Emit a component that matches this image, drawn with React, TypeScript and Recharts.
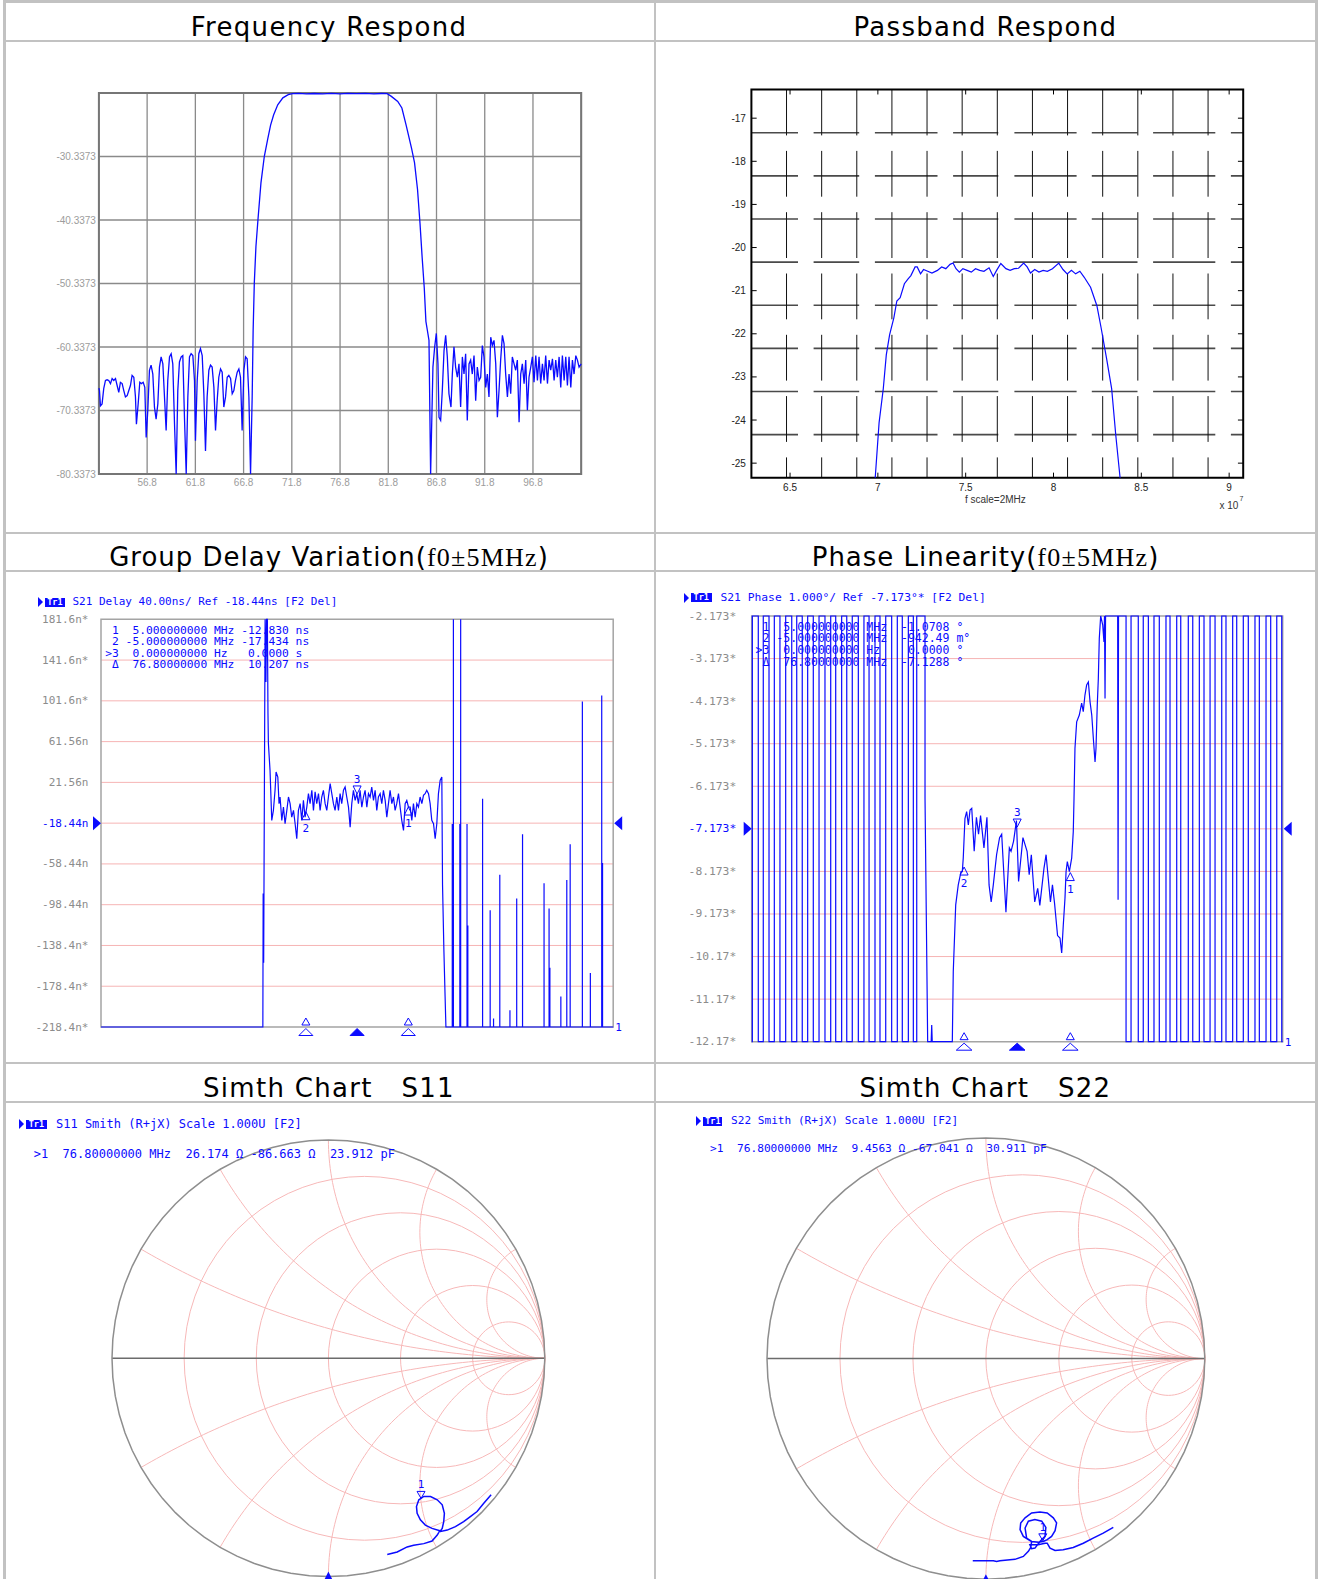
import React from 'react';
import {
  LineChart,
  Line,
  ScatterChart,
  Scatter,
  XAxis,
  YAxis,
  CartesianGrid,
  ReferenceArea,
  ReferenceDot,
  ReferenceLine,
} from 'recharts';

// ---------- Frequency Respond (MHz, dB) ----------
const freqTicks = [56.8, 61.8, 66.8, 71.8, 76.8, 81.8, 86.8, 91.8, 96.8];
const lossTicks = [-80.3373, -70.3373, -60.3373, -50.3373, -40.3373, -30.3373];
const freqResponse = [
  [51.8, -66.8], [51.86, -67.2], [51.96, -69.6], [52.13, -69.3], [52.3, -66.9], [52.48, -65.6], [52.65, -65.5],
  [52.82, -65.6], [53.0, -66.1], [53.17, -65.3], [53.34, -65.6], [53.52, -65.3], [53.69, -66.4], [53.86, -67.5],
  [54.03, -65.9], [54.21, -66.1], [54.38, -67.2], [54.55, -68.2], [54.73, -68.0], [54.9, -67.2], [55.07, -66.4],
  [55.24, -64.8], [55.42, -65.1], [55.59, -68.2], [55.69, -72.5], [55.87, -69.3], [56.04, -65.9], [56.21, -66.1],
  [56.39, -65.9], [56.56, -66.7], [56.7, -74.6], [56.87, -70.3], [57.04, -64.0], [57.21, -63.2], [57.39, -64.6],
  [57.56, -69.8], [57.73, -71.7], [57.91, -69.3], [58.08, -63.5], [58.25, -61.9], [58.43, -63.0], [58.6, -68.2],
  [58.77, -73.5], [58.94, -65.6], [59.12, -61.9], [59.29, -61.4], [59.46, -63.0], [59.64, -72.5], [59.81, -80.34],
  [59.98, -67.2], [60.15, -62.7], [60.33, -61.9], [60.5, -61.7], [60.67, -71.4], [60.85, -80.34], [61.02, -68.2],
  [61.19, -61.9], [61.36, -61.4], [61.54, -61.7], [61.71, -65.6], [61.81, -75.1], [61.99, -65.6], [62.16, -61.4],
  [62.33, -60.6], [62.51, -61.7], [62.68, -67.7], [62.85, -76.7], [63.02, -68.2], [63.2, -64.0], [63.37, -63.2],
  [63.54, -63.5], [63.72, -66.7], [63.89, -73.5], [64.06, -68.8], [64.23, -65.1], [64.41, -63.8], [64.58, -64.3],
  [64.75, -69.8], [64.93, -68.2], [65.1, -65.1], [65.27, -64.8], [65.45, -65.3], [65.62, -67.7], [65.79, -67.2],
  [65.96, -65.6], [66.14, -64.3], [66.31, -63.8], [66.48, -65.1], [66.65, -73.5], [66.83, -64.0], [67.0, -61.9],
  [67.17, -62.2], [67.35, -68.2], [67.52, -80.34], [67.69, -68.2], [67.79, -57.7], [67.91, -50.3], [68.08, -44.5],
  [68.29, -40.3], [68.6, -34.5], [68.95, -30.3], [69.3, -27.6], [69.6, -25.4], [69.91, -23.8], [70.34, -22.2],
  [70.87, -21.1], [71.43, -20.6], [71.87, -20.45], [72.5, -20.4], [73.3, -20.46], [74.1, -20.42], [75.0, -20.47],
  [75.9, -20.41], [76.8, -20.46], [77.6, -20.4], [78.5, -20.45], [79.4, -20.41], [80.3, -20.46], [81.1, -20.42],
  [81.69, -20.45], [82.12, -20.87], [82.78, -21.67], [83.21, -22.7], [83.65, -25.4], [84.22, -29.1], [84.52, -31.3],
  [84.83, -35.5], [85.09, -40.9], [85.31, -46.2], [85.53, -51.0], [85.7, -56.3], [85.85, -57.7], [86.02, -59.3],
  [86.19, -80.34], [86.43, -63.5], [86.61, -60.3], [86.78, -58.2], [86.95, -63.0], [87.06, -71.4], [87.23, -71.9],
  [87.4, -67.2], [87.58, -60.9], [87.75, -58.5], [87.92, -61.9], [88.09, -67.7], [88.3, -69.8], [88.44, -64.6],
  [88.61, -60.3], [88.78, -63.5], [88.96, -65.1], [89.13, -63.0], [89.3, -69.8], [89.48, -61.9], [89.65, -64.6],
  [89.82, -61.4], [89.99, -71.9], [90.17, -63.0], [90.34, -62.4], [90.51, -64.6], [90.69, -61.7], [90.86, -68.8],
  [91.03, -63.5], [91.21, -65.6], [91.38, -65.1], [91.55, -60.1], [91.72, -61.9], [91.9, -66.7], [92.07, -64.6],
  [92.24, -68.2], [92.42, -58.8], [92.59, -60.1], [92.76, -59.3], [92.94, -63.0], [93.11, -71.4], [93.28, -67.2],
  [93.45, -62.4], [93.63, -58.5], [93.8, -59.8], [93.97, -64.6], [94.15, -68.2], [94.32, -64.6], [94.49, -67.7],
  [94.66, -61.9], [94.84, -63.0], [95.01, -64.0], [95.18, -62.4], [95.36, -72.2], [95.53, -64.6], [95.7, -63.0],
  [95.88, -66.1], [96.05, -62.4], [96.22, -70.3], [96.39, -65.1], [96.57, -63.5], [96.74, -61.9], [96.91, -65.9],
  [97.09, -61.7], [97.26, -65.6], [97.43, -61.9], [97.6, -66.1], [97.78, -63.0], [97.95, -65.6], [98.12, -61.7],
  [98.3, -66.1], [98.47, -62.4], [98.64, -64.0], [98.82, -62.2], [98.99, -65.6], [99.16, -62.4], [99.33, -65.1],
  [99.51, -61.9], [99.68, -66.7], [99.85, -61.7], [100.03, -65.6], [100.2, -61.9], [100.37, -66.4], [100.54, -61.9],
  [100.72, -66.7], [100.89, -62.4], [101.06, -64.6], [101.24, -61.7], [101.41, -62.4], [101.58, -63.5], [101.8, -63.0],
];

// ---------- Passband Respond (x 1e7 Hz, dB) ----------
const pbXTicks = [6.5, 7, 7.5, 8, 8.5, 9];
const pbYTicks = [-25, -24, -23, -22, -21, -20, -19, -18, -17];
const pbHGrid = [-24.3373, -23.3373, -22.3373, -21.3373, -20.3373, -19.3373, -18.3373, -17.3373];
const pbVGrid = [6.48, 6.68, 6.88, 7.08, 7.28, 7.48, 7.68, 7.88, 8.08, 8.28, 8.48, 8.68, 8.88];
const passband = [
  [6.985, -25.3373], [7.007, -24.06], [7.031, -23.27], [7.048, -22.49], [7.067, -22.02], [7.091, -21.63],
  [7.108, -21.24], [7.127, -21.16], [7.151, -20.84], [7.171, -20.73], [7.188, -20.65], [7.212, -20.45],
  [7.224, -20.45], [7.243, -20.61], [7.26, -20.51], [7.284, -20.55], [7.308, -20.59], [7.339, -20.53],
  [7.363, -20.45], [7.387, -20.49], [7.411, -20.39], [7.428, -20.36], [7.445, -20.49], [7.464, -20.57],
  [7.484, -20.49], [7.508, -20.53], [7.532, -20.57], [7.556, -20.49], [7.58, -20.53], [7.604, -20.55],
  [7.633, -20.47], [7.657, -20.67], [7.676, -20.53], [7.7, -20.37], [7.729, -20.49], [7.753, -20.53],
  [7.777, -20.49], [7.801, -20.48], [7.83, -20.36], [7.85, -20.45], [7.869, -20.59], [7.893, -20.51],
  [7.917, -20.57], [7.941, -20.53], [7.965, -20.55], [7.994, -20.49], [8.03, -20.36], [8.054, -20.51],
  [8.078, -20.61], [8.102, -20.53], [8.126, -20.61], [8.15, -20.55], [8.175, -20.69], [8.211, -20.92],
  [8.247, -21.35], [8.271, -21.86], [8.302, -22.57], [8.331, -23.27], [8.355, -24.37], [8.379, -25.3373],
];

// ---------- Group delay (MHz, ns) ----------
const vnaXGrid = [56.8, 61.8, 66.8, 71.8, 76.8, 81.8, 86.8, 91.8, 96.8];
const delayTicks = [-218.44, -178.44, -138.44, -98.44, -58.44, -18.44, 21.56, 61.56, 101.56, 141.56, 181.56];
const delayLabels = ['-218.4n*', '-178.4n*', '-138.4n*', '-98.44n', '-58.44n', '-18.44n', '21.56n', '61.56n', '101.6n*', '141.6n*', '181.6n*'];
const groupDelay = [
  [51.8, -218.44], [67.6, -218.44], [67.63, -87.4], [67.68, -155.4], [67.72, -57.5], [67.82, 181.56], [67.9, 120.1],
  [67.96, 181.56], [68.04, 181.56], [68.1, 89.2], [68.14, 60.0], [68.3, 33.4], [68.47, -15.7], [68.63, -5.9],
  [68.79, 13.8], [68.89, 31.7], [69.06, 26.8], [69.18, 0.7], [69.28, 7.2], [69.45, -15.7], [69.61, -2.7],
  [69.77, -19.0], [69.94, -5.9], [70.1, 7.2], [70.26, 0.7], [70.42, -12.5], [70.59, -5.9], [70.75, -19.0],
  [70.91, -33.7], [71.07, -5.9], [71.24, 0.7], [71.4, -15.7], [71.56, 3.9], [71.72, -12.5], [71.89, -2.7],
  [72.05, 10.5], [72.21, 0.7], [72.38, 13.8], [72.54, -5.9], [72.7, 12.2], [72.86, 0.7], [73.03, 10.5],
  [73.19, -5.9], [73.35, 7.2], [73.51, 13.8], [73.68, 0.7], [73.84, -5.9], [74.0, 7.2], [74.17, 20.4],
  [74.33, 10.5], [74.49, 0.7], [74.65, -5.9], [74.82, 7.2], [74.98, -5.9], [75.14, 10.5], [75.3, 0.7],
  [75.47, 13.8], [75.63, 17.0], [75.79, 7.2], [75.96, -2.7], [76.12, -22.3], [76.28, 0.7], [76.44, 13.8],
  [76.61, 3.9], [76.77, 10.5], [76.93, 0.7], [77.09, 13.8], [77.26, -2.7], [77.42, 7.2], [77.58, 13.8],
  [77.75, -2.7], [77.91, 10.5], [78.07, 7.2], [78.23, 17.0], [78.4, 3.9], [78.56, 13.8], [78.72, -5.9],
  [78.88, 7.2], [79.05, 10.5], [79.21, 0.7], [79.37, 13.8], [79.54, 3.9], [79.7, -12.5], [79.86, 0.7],
  [80.02, 13.8], [80.19, 0.7], [80.35, 7.2], [80.51, -5.9], [80.67, 0.7], [80.84, 10.5], [81.0, -2.7],
  [81.16, -15.7], [81.33, -25.6], [81.49, 0.7], [81.65, 3.9], [81.81, -2.6], [81.98, -2.7], [82.14, -15.7],
  [82.3, 0.7], [82.47, -12.5], [82.63, 0.7], [82.79, -2.7], [82.95, 7.2], [83.12, 0.7], [83.28, 8.9],
  [83.44, 10.5], [83.6, 13.8], [83.77, 10.5], [83.93, 0.7], [84.09, -15.7], [84.26, -19.0], [84.42, -33.7],
  [84.58, -19.0], [84.74, 10.5], [84.91, 23.6], [85.07, 26.8], [85.14, -79.1], [85.27, -142.1], [85.39, -188.6],
  [85.47, -218.44],
  [86.09, -218.44], [86.09, -19.3], [86.09, -218.44], [86.2, -218.44], [86.2, 181.56], [86.2, -218.44],
  [86.83, -218.44], [86.83, -19.3], [86.83, -218.44], [86.91, -218.44], [86.91, 181.56], [86.91, -218.44],
  [87.53, -218.44], [87.53, -19.3], [87.53, -218.44], [87.61, -218.44], [87.61, -118.9], [87.61, -218.44],
  [89.05, -218.44], [89.05, 5.6], [89.05, -218.44], [89.79, -218.44], [89.79, -104.0], [89.79, -218.44],
  [90.12, -218.44], [90.12, -210.2], [90.12, -218.44], [90.73, -218.44], [90.73, -69.1], [90.73, -218.44],
  [91.72, -218.44], [91.72, -201.9], [91.72, -218.44], [92.38, -218.44], [92.38, -92.3], [92.38, -218.44],
  [92.95, -218.44], [92.95, -29.3], [92.95, -218.44], [95.05, -218.44], [95.05, -77.4], [95.05, -218.44],
  [95.54, -218.44], [95.54, -102.3], [95.54, -218.44], [95.62, -218.44], [95.62, -160.4], [95.62, -218.44],
  [96.69, -218.44], [96.69, -188.6], [96.69, -218.44], [97.27, -218.44], [97.27, -74.1], [97.27, -218.44],
  [97.6, -218.44], [97.6, -39.2], [97.6, -218.44], [98.79, -218.44], [98.79, 100.9], [98.79, -218.44],
  [99.57, -218.44], [99.57, -165.4], [99.57, -218.44], [100.68, -218.44], [100.68, 106.9], [100.68, -218.44],
  [100.76, -218.44], [100.76, -57.5], [100.76, -218.44], [101.8, -218.44],
];
const delayMarkers = [
  { x: 71.8, y: -7.23, label: '2', up: true },
  { x: 76.8, y: 10.21, label: '3', up: false },
  { x: 81.8, y: -2.62, label: '1', up: true },
];
const delayReadout = [
  ' 1  5.000000000 MHz -12.830 ns',
  ' 2 -5.000000000 MHz -17.434 ns',
  '>3  0.000000000 Hz   0.0000 s',
  ' \u0394  76.80000000 MHz  10.207 ns',
];

// ---------- Phase linearity (MHz, deg) ----------
const phaseTicks = [-12.173, -11.173, -10.173, -9.173, -8.173, -7.173, -6.173, -5.173, -4.173, -3.173, -2.173];
const phaseLabels = ['-12.17*', '-11.17*', '-10.17*', '-9.173*', '-8.173*', '-7.173*', '-6.173*', '-5.173*', '-4.173*', '-3.173*', '-2.173*'];
const phase = [
  [51.8, -12.173], [51.86, -12.173], [51.86, -2.173], [52.42, -2.173], [52.42, -12.173], [52.89, -12.173],
  [52.89, -2.173], [53.43, -2.173], [53.43, -12.173], [53.93, -12.173], [53.93, -2.173], [54.46, -2.173],
  [54.46, -12.173], [55.0, -12.173], [55.0, -2.173], [55.57, -2.173], [55.57, -12.173], [56.04, -12.173],
  [56.04, -2.173], [56.56, -2.173], [56.56, -12.173], [57.07, -12.173], [57.07, -2.173], [57.6, -2.173],
  [57.6, -12.173], [58.14, -12.173], [58.14, -2.173], [58.7, -2.173], [58.7, -12.173], [59.24, -12.173],
  [59.24, -2.173], [59.71, -2.173], [59.71, -12.173], [60.27, -12.173], [60.27, -2.173], [60.75, -2.173],
  [60.75, -12.173], [61.27, -12.173], [61.27, -2.173], [61.84, -2.173], [61.84, -12.173], [62.37, -12.173],
  [62.37, -2.173], [62.85, -2.173], [62.85, -12.173], [63.41, -12.173], [63.41, -2.173], [63.88, -2.173],
  [63.88, -12.173], [64.42, -12.173], [64.42, -2.173], [64.98, -2.173], [64.98, -12.173], [65.51, -12.173],
  [65.51, -2.173], [65.98, -2.173], [65.98, -12.173], [66.55, -12.173], [66.55, -2.173], [67.02, -2.173],
  [67.02, -12.173], [67.34, -12.173], [67.34, -2.173], [68.12, -2.173], [68.12, -6.45], [68.37, -12.173],
  [68.7, -12.173], [68.75, -11.78], [68.8, -12.173], [70.69, -12.173], [70.78, -10.53], [71.01, -8.96],
  [71.25, -8.49], [71.51, -8.18], [71.63, -8.18], [71.72, -7.86], [71.88, -6.93], [72.04, -6.77], [72.2, -7.08],
  [72.36, -6.73], [72.52, -6.69], [72.75, -7.7], [72.96, -6.9], [73.16, -7.3], [73.35, -6.86], [73.67, -7.62],
  [73.95, -6.9], [74.15, -8.49], [74.35, -8.89], [74.55, -8.49], [74.86, -7.78], [75.14, -7.38], [75.34, -7.3],
  [75.74, -9.13], [76.06, -7.62], [76.22, -7.7], [76.46, -7.46], [76.73, -6.98], [76.93, -8.41], [77.34, -7.38],
  [77.73, -7.7], [77.93, -8.25], [78.13, -7.78], [78.45, -8.89], [78.73, -8.57], [78.93, -8.97], [79.32, -8.1],
  [79.52, -7.78], [79.93, -8.89], [80.12, -8.49], [80.32, -8.93], [80.6, -9.68], [80.83, -9.74], [80.99, -10.09],
  [81.14, -9.43], [81.3, -8.8], [81.4, -8.18], [81.52, -7.94], [81.71, -8.18], [81.93, -7.86], [82.08, -7.24],
  [82.15, -6.46], [82.24, -5.28], [82.4, -4.66], [82.65, -4.5], [82.87, -4.22], [83.02, -4.42], [83.18, -4.03],
  [83.34, -3.79], [83.5, -3.72], [83.66, -4.19], [83.82, -4.5], [83.97, -5.05], [84.13, -5.6], [84.22, -5.28],
  [84.34, -4.26], [84.44, -3.64], [84.53, -2.7], [84.66, -2.173], [84.85, -2.38], [84.97, -2.78], [85.02, -2.173],
  [85.07, -4.11], [85.12, -2.173], [86.26, -2.173], [86.3, -8.84], [86.34, -2.173], [87.05, -2.173],
  [87.05, -12.173], [87.52, -12.173], [87.52, -2.173], [88.2, -2.173], [88.2, -12.173], [88.67, -12.173],
  [88.67, -2.173], [89.15, -2.173], [89.15, -12.173], [89.68, -12.173], [89.68, -2.173], [90.18, -2.173],
  [90.18, -12.173], [90.81, -12.173], [90.81, -2.173], [91.19, -2.173], [91.19, -12.173], [91.82, -12.173],
  [91.82, -2.173], [92.2, -2.173], [92.2, -12.173], [92.91, -12.173], [92.91, -2.173], [93.33, -2.173],
  [93.33, -12.173], [93.95, -12.173], [93.95, -2.173], [94.39, -2.173], [94.39, -12.173], [94.96, -12.173],
  [94.96, -2.173], [95.43, -2.173], [95.43, -12.173], [96.06, -12.173], [96.06, -2.173], [96.46, -2.173],
  [96.46, -12.173], [97.09, -12.173], [97.09, -2.173], [97.47, -2.173], [97.47, -12.173], [98.09, -12.173],
  [98.09, -2.173], [98.56, -2.173], [98.56, -12.173], [99.19, -12.173], [99.19, -2.173], [99.6, -2.173],
  [99.6, -12.173], [100.23, -12.173], [100.23, -2.173], [100.67, -2.173], [100.67, -12.173], [101.24, -12.173],
  [101.24, -2.173], [101.71, -2.173], [101.71, -12.173], [101.8, -12.173],
];
const phaseMarkers = [
  { x: 71.8, y: -8.07, label: '2', up: true },
  { x: 76.8, y: -7.13, label: '3', up: false },
  { x: 81.8, y: -8.2, label: '1', up: true },
];
const phaseReadout = [
  ' 1  5.000000000 MHz  -1.0708 \u00b0',
  ' 2 -5.000000000 MHz  -942.49 m\u00b0',
  '>3  0.000000000 Hz    0.0000 \u00b0',
  ' \u0394  76.80000000 MHz  -7.1288 \u00b0',
];

// ---------- Smith charts (reflection coefficient re, im) ----------
const resistanceCircles = [0.2, 0.5, 1, 2, 5];
const reactanceArcs = [0.268, 0.577, 1, 1.732, 3.732];
const s11Trace = [
  [0.272, -0.899], [0.318, -0.887], [0.364, -0.864], [0.394, -0.856], [0.441, -0.849], [0.479, -0.837],
  [0.503, -0.81], [0.515, -0.79], [0.479, -0.779], [0.448, -0.764], [0.425, -0.74], [0.41, -0.71], [0.407, -0.679],
  [0.418, -0.648], [0.441, -0.633], [0.472, -0.633], [0.503, -0.648], [0.526, -0.671], [0.536, -0.71],
  [0.533, -0.748], [0.526, -0.779], [0.515, -0.794], [0.549, -0.787], [0.587, -0.771], [0.625, -0.748],
  [0.656, -0.725], [0.687, -0.702], [0.718, -0.664], [0.752, -0.625],
];
const s22Trace = [
  [-0.06, -0.916], [0.034, -0.916], [0.049, -0.92], [0.064, -0.916], [0.133, -0.91], [0.171, -0.897],
  [0.194, -0.874], [0.205, -0.856], [0.209, -0.829], [0.194, -0.821], [0.171, -0.806], [0.156, -0.775],
  [0.159, -0.745], [0.179, -0.722], [0.209, -0.7], [0.247, -0.695], [0.28, -0.7], [0.308, -0.722], [0.323, -0.745],
  [0.316, -0.78], [0.3, -0.806], [0.28, -0.821], [0.262, -0.829], [0.239, -0.833], [0.209, -0.829], [0.186, -0.814],
  [0.179, -0.768], [0.194, -0.737], [0.224, -0.73], [0.255, -0.737], [0.274, -0.765], [0.27, -0.806],
  [0.247, -0.829], [0.224, -0.859], [0.209, -0.862], [0.201, -0.844], [0.239, -0.844], [0.27, -0.837],
  [0.28, -0.837], [0.293, -0.859], [0.316, -0.87], [0.353, -0.867], [0.399, -0.856], [0.445, -0.837],
  [0.49, -0.814], [0.536, -0.791], [0.582, -0.765],
];
const s11Marker = [0.428, -0.651];
const s22Marker = [0.26, -0.835];
const s11Readout = '>1  76.80000000 MHz  26.174 \u03a9 -86.663 \u03a9  23.912 pF';
const s22Readout = '>1  76.80000000 MHz  9.4563 \u03a9 -67.041 \u03a9  30.911 pF';

const BLUE = '#0b0bff';
const MONO = '"DejaVu Sans Mono", monospace';
const SANS = '"DejaVu Sans", sans-serif';
const SERIF = '"Liberation Serif", serif';
const ARIAL = '"Liberation Sans", Arial, sans-serif';

const toRows = (pairs: number[][]) => pairs.map(([x, y]) => ({ x, y }));

// Smith grid geometry built from the grid values above
function arc(cx: number, cy: number, r: number, a0: number, a1: number, flip = 1) {
  const pts = [];
  const n = 72;
  for (let i = 0; i <= n; i++) {
    const a = a0 + ((a1 - a0) * i) / n;
    pts.push({ x: cx + r * Math.cos(a), y: flip * (cy + r * Math.sin(a)) });
  }
  return pts;
}
const smithGrid = [
  ...resistanceCircles.map((r) => arc(r / (1 + r), 0, 1 / (1 + r), 0, 2 * Math.PI)),
  ...reactanceArcs.flatMap((x) => {
    const px = (x * x - 1) / (x * x + 1);
    const py = (2 * x) / (x * x + 1);
    let end = Math.atan2(py - 1 / x, px - 1);
    if (end > -Math.PI / 2) end -= 2 * Math.PI;
    return [arc(1, 1 / x, 1 / x, -Math.PI / 2, end, 1), arc(1, 1 / x, 1 / x, -Math.PI / 2, end, -1)];
  }),
];
const unitCircle = arc(0, 0, 1, 0, 2 * Math.PI);
const realAxis = [{ x: -1, y: 0 }, { x: 1, y: 0 }];

const noShape = () => <g />;

function Title({ left, top, width, ls = 1.3, children }: any) {
  return (
    <div
      style={{
        position: 'absolute', left, top, width, height: 30, lineHeight: '30px', textAlign: 'center',
        fontFamily: SANS, fontSize: 26, letterSpacing: ls, color: '#000', whiteSpace: 'pre',
      }}
    >
      {children}
    </div>
  );
}

function Mono({ left, top, size, lh, lines, color = BLUE }: any) {
  return (
    <div
      style={{
        position: 'absolute', left, top, fontFamily: MONO, fontSize: size, lineHeight: `${lh}px`,
        color, whiteSpace: 'pre',
      }}
    >
      {lines.join('\n')}
    </div>
  );
}

function TraceTag({ x, cy, boxW }: any) {
  return (
    <>
      <div
        style={{
          position: 'absolute', left: x, top: cy - 5, width: 0, height: 0,
          borderTop: '5px solid transparent', borderBottom: '5px solid transparent', borderLeft: `5px solid ${BLUE}`,
        }}
      />
      <div
        style={{
          position: 'absolute', left: x + 7, top: cy - 4.5, width: boxW, height: 9, background: BLUE, color: '#fff',
          fontFamily: MONO, fontSize: 8.5, fontWeight: 'bold', lineHeight: '9px', textAlign: 'center',
        }}
      >
        Tr1
      </div>
    </>
  );
}

function TableFrame() {
  const rows = [0, 40, 531.5, 569.6, 1062.4, 1101];
  const cols = [3.4, 653.5, 1315];
  return (
    <>
      {rows.map((y, i) => (
        <div key={'h' + i} style={{ position: 'absolute', left: 3.4, top: y, width: 1314, height: i === 0 ? 3 : 2, background: '#c2c2c2' }} />
      ))}
      {cols.map((x, i) => (
        <div key={'v' + i} style={{ position: 'absolute', left: x, top: 0, width: 2.5, height: 1579, background: '#c2c2c2' }} />
      ))}
    </>
  );
}

function FrequencyChart() {
  const tick = { fill: '#9c9c9c', fontSize: 10, fontFamily: ARIAL };
  return (
    <div style={{ position: 'absolute', left: 0, top: 0 }}>
      <LineChart width={600} height={500} data={toRows(freqResponse)} margin={{ top: 93, right: 18.8, bottom: 6, left: 28.9 }}>
        <CartesianGrid stroke="#8a8a8a" strokeWidth={1.3} />
        <XAxis type="number" dataKey="x" domain={[51.8, 101.8]} ticks={freqTicks} interval={0} height={20}
          tickFormatter={(v: number) => v.toFixed(1)} axisLine={false} tickLine={false} tickSize={3} tickMargin={2} tick={tick} />
        <YAxis type="number" domain={[-80.3373, -20.3373]} ticks={lossTicks} interval={0} width={70}
          tickFormatter={(v: number) => v.toFixed(4)} axisLine={false} tickLine={false} tickSize={0} tickMargin={3} tick={tick} />
        <ReferenceArea x1={51.8} x2={101.8} y1={-80.3373} y2={-20.3373} fill="none" stroke="#767676" strokeWidth={2} />
        <Line type="linear" dataKey="y" stroke={BLUE} strokeWidth={1.3} dot={false} isAnimationActive={false} />
      </LineChart>
    </div>
  );
}

function PassbandChart() {
  const tick = { fill: '#222', fontSize: 10, fontFamily: ARIAL };
  const hDash = '46.6 15.6 45.6 15.7 62.6 15.6 45.2 16.1 62.2 15.2 45.7 15.6 62.2 15.6 40';
  return (
    <div style={{ position: 'absolute', left: 655, top: 45 }}>
      <LineChart width={650} height={480} data={toRows(passband)} margin={{ top: 44.6, right: 61.8, bottom: 27.3, left: 56.4 }}>
        <CartesianGrid vertical={false} horizontalValues={pbHGrid} stroke="#4a4a4a" strokeWidth={1.6} strokeDasharray={hDash} />
        <CartesianGrid horizontal={false} verticalValues={pbVGrid} stroke="#111" strokeWidth={1} strokeDasharray="45.8 15.5" />
        <XAxis type="number" dataKey="x" domain={[6.28, 9.08]} ticks={pbXTicks} interval={0} height={20}
          tickFormatter={(v: number) => String(v)} axisLine={false} tickLine={false} tickSize={0} tickMargin={5.7} tick={tick} />
        <YAxis type="number" domain={[-25.3373, -16.3373]} ticks={pbYTicks} interval={0} width={40}
          axisLine={false} tickLine={false} tickSize={0} tickMargin={5.5} tick={tick} />
        {pbYTicks.map((t) => (
          <ReferenceLine key={'l' + t} segment={[{ x: 6.28, y: t }, { x: 6.31, y: t }]} stroke="#000" />
        ))}
        {pbYTicks.map((t) => (
          <ReferenceLine key={'r' + t} segment={[{ x: 9.05, y: t }, { x: 9.08, y: t }]} stroke="#000" />
        ))}
        {pbXTicks.map((t) => (
          <ReferenceLine key={'b' + t} segment={[{ x: t, y: -25.3373 }, { x: t, y: -25.22 }]} stroke="#000" />
        ))}
        {pbXTicks.map((t) => (
          <ReferenceLine key={'t' + t} segment={[{ x: t, y: -16.3373 }, { x: t, y: -16.45 }]} stroke="#000" />
        ))}
        <ReferenceArea x1={6.28} x2={9.08} y1={-25.3373} y2={-16.3373} fill="none" stroke="#000" strokeWidth={2} />
        <Line type="linear" dataKey="y" stroke={BLUE} strokeWidth={1.2} dot={false} isAnimationActive={false} />
      </LineChart>
    </div>
  );
}

function markerShape(label: string, up: boolean) {
  return (p: any) => {
    const { cx, cy } = p;
    if (up) {
      return (
        <g>
          <polygon points={`${cx},${cy} ${cx - 4},${cy + 8} ${cx + 4},${cy + 8}`} fill="none" stroke={BLUE} strokeWidth={1} />
          <text x={cx} y={cy + 20} textAnchor="middle" fontFamily={MONO} fontSize={11} fill={BLUE}>{label}</text>
        </g>
      );
    }
    return (
      <g>
        <polygon points={`${cx},${cy} ${cx - 4},${cy - 8} ${cx + 4},${cy - 8}`} fill="none" stroke={BLUE} strokeWidth={1} />
        <text x={cx} y={cy - 11} textAnchor="middle" fontFamily={MONO} fontSize={11} fill={BLUE}>{label}</text>
      </g>
    );
  };
}

function bottomShape(active: boolean, hw: number) {
  return (p: any) => {
    const { cx, cy } = p;
    return (
      <g>
        {!active && (
          <polygon points={`${cx},${cy - 9} ${cx - 4},${cy - 2} ${cx + 4},${cy - 2}`} fill="none" stroke={BLUE} strokeWidth={1} />
        )}
        <polygon points={`${cx},${cy + 1.5} ${cx - hw},${cy + 8.5} ${cx + hw},${cy + 8.5}`}
          fill={active ? BLUE : '#fff'} stroke={BLUE} strokeWidth={1} />
      </g>
    );
  };
}

const leftArrow = (p: any) => (
  <polygon points={`${p.cx - 8},${p.cy - 7} ${p.cx},${p.cy} ${p.cx - 8},${p.cy + 7}`} fill={BLUE} />
);
const rightArrow = (p: any) => (
  <polygon points={`${p.cx + 9},${p.cy - 7} ${p.cx + 1},${p.cy} ${p.cx + 9},${p.cy + 7}`} fill={BLUE} />
);
const endLabel = (p: any) => (
  <text x={p.cx + 2} y={p.cy + 4} fontFamily={MONO} fontSize={11} fill={BLUE}>1</text>
);

function VnaChart({ left, top, margin, rows, yTicks, yLabels, refValue, markers, tickMargin, labelSize, hw }: any) {
  const yMin = yTicks[0];
  const yMax = yTicks[yTicks.length - 1];
  const renderTick = (p: any) => {
    const v = p.payload.value;
    const i = yTicks.findIndex((t: number) => Math.abs(t - v) < 1e-6);
    return (
      <text x={p.x} y={p.y} textAnchor="end" dominantBaseline="central" fontFamily={MONO} fontSize={labelSize}
        fill={Math.abs(v - refValue) < 1e-6 ? BLUE : '#8c8c8c'}>
        {yLabels[i]}
      </text>
    );
  };
  return (
    <div style={{ position: 'absolute', left, top }}>
      <LineChart width={650} height={480} data={rows} margin={margin}>
        <CartesianGrid stroke="#f6b4b4" strokeWidth={1} horizontalValues={yTicks.slice(1, -1)} verticalValues={vnaXGrid} />
        <XAxis type="number" dataKey="x" domain={[51.8, 101.8]} ticks={vnaXGrid} interval={0} height={0}
          tick={false} axisLine={false} tickLine={false} />
        <YAxis type="number" domain={[yMin, yMax]} ticks={yTicks} interval={0} width={90}
          axisLine={false} tickLine={false} tickSize={0} tickMargin={tickMargin} tick={renderTick} />
        <ReferenceArea x1={51.8} x2={101.8} y1={yMin} y2={yMax} fill="none" stroke="#a4a4a4" strokeWidth={1.5} />
        <Line type="linear" dataKey="y" stroke={BLUE} strokeWidth={1.2} dot={false} isAnimationActive={false} />
        {markers.map((m: any) => (
          <ReferenceDot key={'m' + m.label} x={m.x} y={m.y} shape={markerShape(m.label, m.up)} />
        ))}
        {markers.map((m: any) => (
          <ReferenceDot key={'b' + m.label} x={m.x} y={yMin} shape={bottomShape(!m.up, hw)} />
        ))}
        <ReferenceDot x={51.8} y={refValue} shape={leftArrow} />
        <ReferenceDot x={101.8} y={refValue} shape={rightArrow} />
        <ReferenceDot x={101.8} y={yMin} shape={endLabel} />
      </LineChart>
    </div>
  );
}

const smithMarker = (p: any) => (
  <g>
    <polygon points={`${p.cx},${p.cy - 2} ${p.cx - 4},${p.cy - 9} ${p.cx + 4},${p.cy - 9}`} fill="none" stroke={BLUE} strokeWidth={1} />
    <text x={p.cx} y={p.cy - 12} textAnchor="middle" fontFamily={MONO} fontSize={11} fill={BLUE}>1</text>
  </g>
);
const smithBottom = (p: any) => (
  <polygon points={`${p.cx},${p.cy - 5} ${p.cx - 4},${p.cy + 3} ${p.cx + 4},${p.cy + 3}`} fill={BLUE} />
);

function SmithChart({ left, top, width, height, trace, marker }: any) {
  return (
    <div style={{ position: 'absolute', left, top }}>
      <ScatterChart width={width} height={height} margin={{ top: 5, right: 5, bottom: 10, left: 5 }}>
        <XAxis type="number" dataKey="x" domain={[-1, 1]} hide />
        <YAxis type="number" dataKey="y" domain={[-1, 1]} hide />
        {smithGrid.map((pts, i) => (
          <Scatter key={'g' + i} data={pts} line={{ stroke: '#f7b8b8', strokeWidth: 1 }} shape={noShape} isAnimationActive={false} />
        ))}
        <Scatter data={realAxis} line={{ stroke: '#6c6c6c', strokeWidth: 1.5 }} shape={noShape} isAnimationActive={false} />
        <Scatter data={unitCircle} line={{ stroke: '#8e8e8e', strokeWidth: 1.5 }} shape={noShape} isAnimationActive={false} />
        <Scatter data={toRows(trace)} line={{ stroke: BLUE, strokeWidth: 1.5 }} shape={noShape} isAnimationActive={false} />
        <ReferenceDot x={marker[0]} y={marker[1]} shape={smithMarker} />
        <ReferenceDot x={0} y={-1} shape={smithBottom} />
      </ScatterChart>
    </div>
  );
}

export default function App() {
  return (
    <div style={{ position: 'absolute', left: 0, top: 0, width: 1318, height: 1579, overflow: 'hidden', background: '#fff' }}>
      <TableFrame />

      <FrequencyChart />
      <PassbandChart />
      <div style={{ position: 'absolute', left: 895.4, top: 494.3, width: 200, textAlign: 'center', fontFamily: ARIAL, fontSize: 10, lineHeight: '12px', color: '#333' }}>
        f scale=2MHz
      </div>
      <div style={{ position: 'absolute', left: 1219.5, top: 500, fontFamily: ARIAL, fontSize: 10, lineHeight: '12px', color: '#333', whiteSpace: 'pre' }}>
        x 10
      </div>
      <div style={{ position: 'absolute', left: 1239.5, top: 495, fontFamily: ARIAL, fontSize: 7, lineHeight: '8px', color: '#333' }}>7</div>

      <VnaChart
        left={0} top={575} margin={{ top: 44.3, right: 36.8, bottom: 28, left: 11 }}
        rows={toRows(groupDelay)} yTicks={delayTicks} yLabels={delayLabels} refValue={-18.44}
        markers={delayMarkers} tickMargin={12.6} labelSize={11} hw={7}
      />
      <TraceTag x={37.9} cy={602} boxW={20} />
      <Mono left={72.4} top={596} size={11} lh={12} lines={['S21 Delay 40.00ns/ Ref -18.44ns [F2 Del]']} />
      <Mono left={105.2} top={624.7} size={11.3} lh={11.4} lines={delayReadout} />

      <VnaChart
        left={655} top={575} margin={{ top: 41, right: 22.3, bottom: 13.3, left: 6.7 }}
        rows={toRows(phase)} yTicks={phaseTicks} yLabels={phaseLabels} refValue={-7.173}
        markers={phaseMarkers} tickMargin={15.5} labelSize={11.3} hw={7.8}
      />
      <TraceTag x={683.8} cy={597.6} boxW={21} />
      <Mono left={720.5} top={591.6} size={11.3} lh={12} lines={['S21 Phase 1.000\u00b0/ Ref -7.173\u00b0* [F2 Del]']} />
      <Mono left={755.6} top={621.5} size={11.5} lh={11.7} lines={phaseReadout} />

      <SmithChart left={106.5} top={1135.2} width={442.8} height={451.6} trace={s11Trace} marker={s11Marker} />
      <TraceTag x={18.9} cy={1124} boxW={21} />
      <Mono left={56} top={1117.5} size={12} lh={12} lines={['S11 Smith (R+jX) Scale 1.000U [F2]']} />
      <Mono left={33.7} top={1147.6} size={12} lh={12} lines={[s11Readout]} />

      <SmithChart left={762} top={1132.9} width={447.8} height={456.2} trace={s22Trace} marker={s22Marker} />
      <TraceTag x={696.4} cy={1121.4} boxW={19} />
      <Mono left={731.1} top={1115.2} size={11.1} lh={12} lines={['S22 Smith (R+jX) Scale 1.000U [F2]']} />
      <Mono left={710} top={1143.2} size={11.2} lh={12} lines={[s22Readout]} />

      <Title left={4} top={11.5} width={650}>Frequency Respond</Title>
      <Title left={655} top={11.5} width={661}>Passband Respond</Title>
      <Title left={4} top={541.5} width={650} ls={1.0}>
        Group Delay Variation(<span style={{ fontFamily: SERIF, letterSpacing: 1.2 }}>f0±5MHz</span>)
      </Title>
      <Title left={655} top={541.5} width={661} ls={1.0}>
        Phase Linearity(<span style={{ fontFamily: SERIF, letterSpacing: 1.2 }}>f0±5MHz</span>)
      </Title>
      <Title left={4} top={1072.8} width={650}>{'Simth Chart   S11'}</Title>
      <Title left={655} top={1072.8} width={661}>{'Simth Chart   S22'}</Title>
    </div>
  );
}
